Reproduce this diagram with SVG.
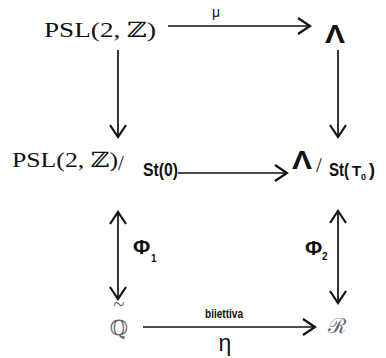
<svg xmlns="http://www.w3.org/2000/svg" width="386" height="358" viewBox="0 0 386 358">
<style>
.cm{font-family:"Liberation Serif","DejaVu Serif",serif;font-size:21px;fill:#111}
.sans{font-family:"Liberation Sans","DejaVu Sans",sans-serif;fill:#111}
.narrow{font-family:"Liberation Sans Narrow","Liberation Sans",sans-serif;font-weight:bold;fill:#111}
.lam{font-family:"Liberation Sans","DejaVu Sans",sans-serif;font-size:25px;font-weight:bold;fill:#111}
.gray{fill:#666}
.ln{stroke:#111;stroke-width:1.7;fill:none}
</style>
<defs>
<marker id="ah" markerUnits="userSpaceOnUse" markerWidth="30" markerHeight="30" refX="0" refY="0" viewBox="-15 -15 30 30" orient="auto-start-reverse">
<path d="M-12,-8 L0,0 L-12,8" fill="none" stroke="#111" stroke-width="2.2"/>
</marker>
</defs>
<rect width="386" height="358" fill="#fff"/>
<g id="connectors">
<line class="ln" x1="168" y1="26" x2="310" y2="26" marker-end="url(#ah)"/>
<text class="sans" x="216" y="17" font-size="14" text-anchor="middle">μ</text>
<line class="ln" x1="118" y1="50" x2="118" y2="137" marker-end="url(#ah)"/>
<line class="ln" x1="338" y1="50" x2="338" y2="137" marker-end="url(#ah)"/>
<line class="ln" x1="178" y1="173" x2="287" y2="173" marker-end="url(#ah)"/>
<line class="ln" x1="118" y1="212" x2="118" y2="299" marker-start="url(#ah)" marker-end="url(#ah)"/>
<text class="sans" x="133" y="254" font-size="21" font-weight="bold">Φ</text>
<text class="narrow" x="151" y="262" font-size="10" font-weight="normal">1</text>
<line class="ln" x1="338" y1="211" x2="338" y2="303" marker-start="url(#ah)" marker-end="url(#ah)"/>
<text class="sans" x="305" y="255" font-size="21" font-weight="bold">Φ</text>
<text class="narrow" x="322" y="260" font-size="10" font-weight="normal">2</text>
<line class="ln" x1="143" y1="327" x2="315" y2="327" marker-end="url(#ah)"/>
<text class="narrow" x="224" y="318" font-size="13" text-anchor="middle" textLength="38" lengthAdjust="spacingAndGlyphs">biiettiva</text>
<text class="sans" x="225" y="351" font-size="23" text-anchor="middle">η</text>
</g>
<g id="n-psl">
<text class="cm" x="44" y="37" textLength="112" lengthAdjust="spacingAndGlyphs">PSL(2, ℤ)</text>
</g>
<g id="n-lambda">
<text class="lam" x="325" y="43" textLength="20" lengthAdjust="spacingAndGlyphs">Λ</text>
</g>
<g id="n-psl-quot">
<text class="cm" x="12" y="167" textLength="106" lengthAdjust="spacingAndGlyphs">PSL(2, ℤ)</text>
<text class="cm" x="118" y="170" font-size="25">/</text>
<text class="narrow" x="143" y="176" font-size="18" textLength="35" lengthAdjust="spacingAndGlyphs">St(0)</text>
</g>
<g id="n-lambda-quot">
<text class="lam" x="292" y="169" textLength="20" lengthAdjust="spacingAndGlyphs">Λ</text>
<text class="cm" x="316" y="172" font-size="25">/</text>
<text class="narrow" x="329" y="176" font-size="18" textLength="20" lengthAdjust="spacingAndGlyphs">St(</text>
<text class="narrow" x="352" y="176" font-size="15" font-weight="normal">T</text>
<text class="narrow" x="361" y="180" font-size="9" font-weight="normal">0</text>
<text class="narrow" x="369" y="176" font-size="18" textLength="6" lengthAdjust="spacingAndGlyphs">)</text>
</g>
<g id="n-qtilde">
<text class="cm gray" x="119" y="311" font-size="17" text-anchor="middle">~</text>
<text class="cm gray" x="119" y="335" font-size="21" text-anchor="middle">ℚ</text>
</g>
<g id="n-r">
<text class="cm gray" x="337" y="333" font-size="22" text-anchor="middle">ℛ</text>
</g>
</svg>
